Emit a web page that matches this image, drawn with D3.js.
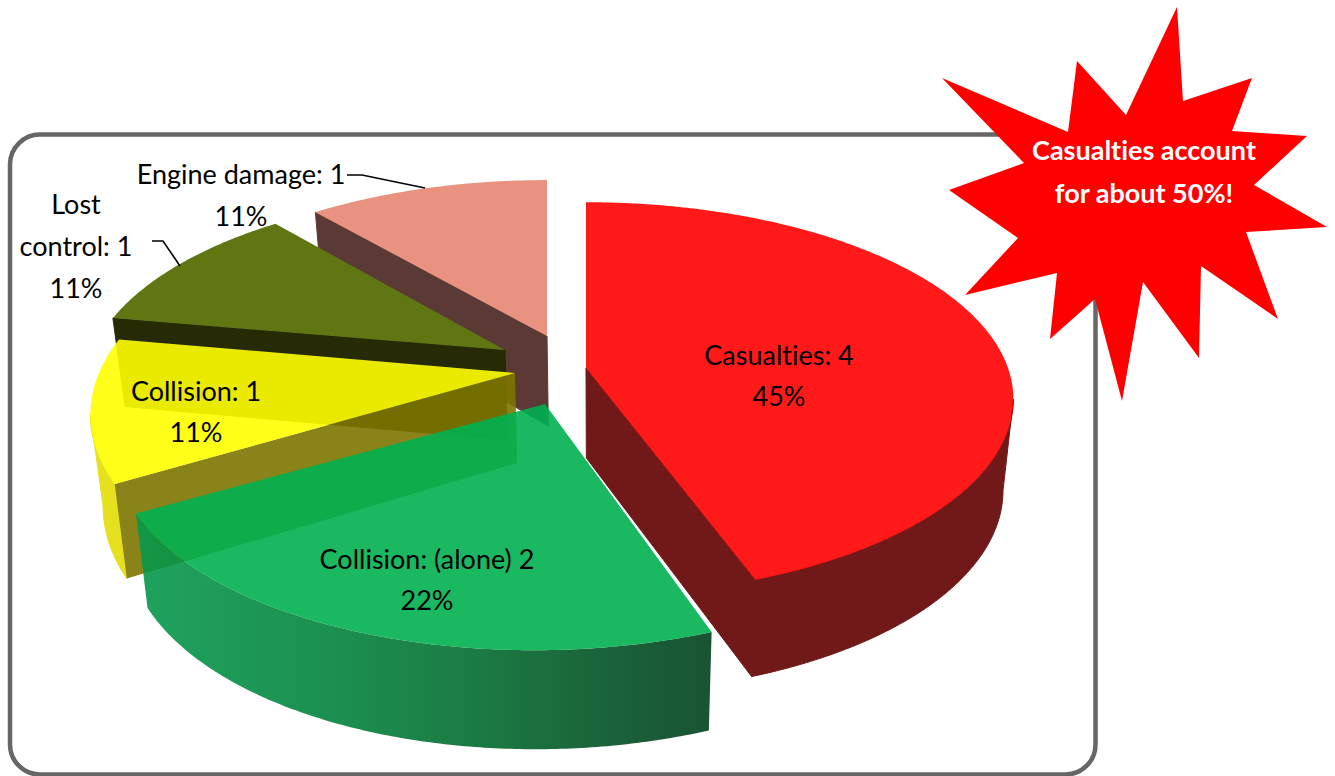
<!DOCTYPE html>
<html>
<head>
<meta charset="utf-8">
<style>
html,body{margin:0;padding:0;background:#fff;overflow:hidden}
svg{display:block}
text{font-family:Lato,"Noto Sans",sans-serif;fill:#000;font-variant-ligatures:none}
</style>
<script src="https://cdn.jsdelivr.net/npm/d3@7/dist/d3.min.js"></script>
</head>
<body>
<svg id="chart" width="1335" height="776"></svg>
<script>
// Accident causes, counted per category
const categories = ["Casualties", "Collision (alone)", "Collision", "Lost control", "Engine damage"];
const counts = [4, 2, 1, 1, 1];
const percentLabels = ["45%", "22%", "11%", "11%", "11%"];
const labelLines = [
  ["Casualties: 4"],
  ["Collision: (alone) 2"],
  ["Collision: 1"],
  ["Lost", "control: 1"],
  ["Engine damage: 1"]
];
const calloutLines = ["Casualties account", "for about 50%!"];

// Where each exploded wedge sits and how its disc is foreshortened
const wedgeLayout = [
  {cx: 586, cy: 368, rx: 422, ry: 192, t: 0.158, shear: 0},
  {cx: 545, cy: 404, rx: 420, ry: 197, t: 0.2, shear: -0.045},
  {cx: 515, cy: 373, rx: 416, ry: 200, t: 0.2, shear: 0},
  {cx: 505, cy: 350, rx: 412, ry: 190, t: 0.2, shear: 0},
  {cx: 547, cy: 336, rx: 410, ry: 184, t: 0.18, shear: 0}
];
const wedgeStyle = [
  {top: "rgb(255,0,0)", topAlpha: 0.9, side: "#711818", sideAlpha: 1, outer: "#711818", outerAlpha: 1},
  {top: "rgb(0,176,80)", topAlpha: 0.9, side: "#1a8a4e", sideAlpha: 1, outer: "url(#greenWall)", outerAlpha: 0.9},
  {top: "rgb(255,255,0)", topAlpha: 0.9, side: "rgb(125,118,0)", sideAlpha: 0.9, outer: "#e6e11e", outerAlpha: 1},
  {top: "#5f7612", topAlpha: 1, side: "#262b05", sideAlpha: 1, outer: "#262b05", outerAlpha: 1},
  {top: "#e8927f", topAlpha: 1, side: "#5b3935", sideAlpha: 1, outer: "#5b3935", outerAlpha: 1}
];
const paintOrder = [4, 3, 2, 0, 1];

const labelSpots = [
  {x: 779, y: 354.5, gap: 41},
  {x: 427, y: 558.5, gap: 41},
  {x: 196, y: 390.5, gap: 41},
  {x: 76, y: 203.5, gap: 42},
  {x: 241, y: 173.5, gap: 42}
];
const leaders = [
  [[347, 175], [362, 175], [425, 188]],
  [[152, 241], [163, 241], [180, 266]]
];
const starOutline = [
  [1177,7],[1183,101],[1252,78],[1232,131],[1307,136],[1254,185],[1327,227],[1246,232],
  [1278,319],[1201,266],[1199,358],[1143,282],[1122,401],[1095,299],[1050,339],[1057,273],
  [965,295],[1018,238],[949,190],[1024,163],[942,78],[1068,132],[1077,61],[1126,115]
];

const thickness = 90;
const vanishX = 600;
const taper = 0.975;

const svg = d3.select("#chart");
const line = d3.line();
const closed = pts => line(pts) + "Z";

// Side wall shading of the green wedge
const grad = svg.append("defs").append("linearGradient")
  .attr("id", "greenWall").attr("gradientUnits", "userSpaceOnUse")
  .attr("x1", 145).attr("x2", 712).attr("y1", 0).attr("y2", 0);
[[0, "#06984a"], [0.35, "#03823c"], [0.6, "#026a2e"], [0.85, "#014e23"], [1, "#00411c"]]
  .forEach(([o, c]) => grad.append("stop").attr("offset", o).attr("stop-color", c));

// Rounded frame behind the pie
svg.append("rect")
  .attr("x", 10).attr("y", 134.5).attr("width", 1085.5).attr("height", 640)
  .attr("rx", 30).attr("ry", 30)
  .attr("fill", "none").attr("stroke", "#666").attr("stroke-width", 4.5);

const arcs = d3.pie().sort(null).value(d => d).startAngle(0).endAngle(2 * Math.PI)(counts);

// Perspective projection of a point on the wedge's upper face
function project(l, r, a) {
  const s = Math.sin(a), c = Math.cos(a);
  const w = 1 + l.t * r * c;
  const y = -l.ry * r * c / w;
  return {x: l.cx + l.rx * r * s / w + l.shear * y, y: l.cy + y, w};
}
const topPoint = (l, r, a) => { const p = project(l, r, a); return [p.x, p.y]; };
function bottomPoint(l, r, a) {
  const p = project(l, r, a);
  return [vanishX + (p.x - vanishX) * taper, p.y + thickness + 45 * (1 - p.w)];
}
function sampleAngles(a0, a1) {
  const n = Math.max(2, Math.ceil((a1 - a0) / 0.01));
  return d3.range(n + 1).map(i => a0 + (a1 - a0) * i / n);
}

const pieLayer = svg.append("g");
paintOrder.forEach(i => {
  const arc = arcs[i], l = wedgeLayout[i], st = wedgeStyle[i];
  const a0 = arc.startAngle, a1 = arc.endAngle;
  const g = pieLayer.append("g").attr("class", "wedge").attr("data-category", categories[i]);

  // Curved outer wall, limited to the part turned towards the viewer
  const turn = Math.acos(-l.t);
  const w0 = Math.max(a0, turn), w1 = Math.min(a1, 2 * Math.PI - turn);
  if (w1 > w0) {
    const ang = sampleAngles(w0, w1);
    const pts = ang.map(a => topPoint(l, 1, a)).concat(ang.slice().reverse().map(a => bottomPoint(l, 1, a)));
    const wall = g.append("path").attr("d", closed(pts)).attr("fill", st.outer).attr("fill-opacity", st.outerAlpha);
    if (st.outerAlpha === 1) wall.attr("stroke", st.outer).attr("stroke-width", 1);
  }

  // Radial walls that face the viewer; opaque ones get a hairline so they
  // join the curved wall without a seam
  [a0, a1].forEach(a => {
    const visible = (a === a0 && a > Math.PI) || (a === a1 && a < Math.PI);
    if (!visible) return;
    const wall = g.append("path")
      .attr("d", closed([topPoint(l, 0, a), topPoint(l, 1, a), bottomPoint(l, 1, a), bottomPoint(l, 0, a)]))
      .attr("fill", st.side).attr("fill-opacity", st.sideAlpha);
    if (st.sideAlpha === 1) wall.attr("stroke", st.side).attr("stroke-width", 1);
  });

  // Upper face
  const rim = sampleAngles(a0, a1).map(a => topPoint(l, 1, a));
  g.append("path").attr("d", closed([topPoint(l, 0, a0)].concat(rim)))
    .attr("fill", st.top).attr("fill-opacity", st.topAlpha);
});

// Leader lines
svg.append("g").selectAll("path").data(leaders).join("path")
  .attr("d", d => line(d)).attr("fill", "none").attr("stroke", "#000").attr("stroke-width", 1.6);

// Wedge labels
const labelFont = 27;
labelSpots.forEach((s, i) => {
  const lines = labelLines[i].concat(percentLabels[i]);
  lines.forEach((t, k) => {
    svg.append("text").attr("x", s.x).attr("y", s.y + k * s.gap)
      .attr("text-anchor", "middle").attr("dominant-baseline", "central")
      .attr("font-size", labelFont).text(t);
  });
});

// Callout burst
svg.append("path").attr("d", closed(starOutline)).attr("fill", "#ff0000");
svg.selectAll("text.callout").data(calloutLines).join("text")
  .attr("class", "callout")
  .attr("x", 1144)
  .attr("y", (d, i) => 149.5 + i * 43)
  .attr("text-anchor", "middle").attr("dominant-baseline", "central")
  .attr("font-size", 27).attr("font-weight", 700)
  .style("fill", "#fff").text(d => d);
</script>
</body>
</html>
